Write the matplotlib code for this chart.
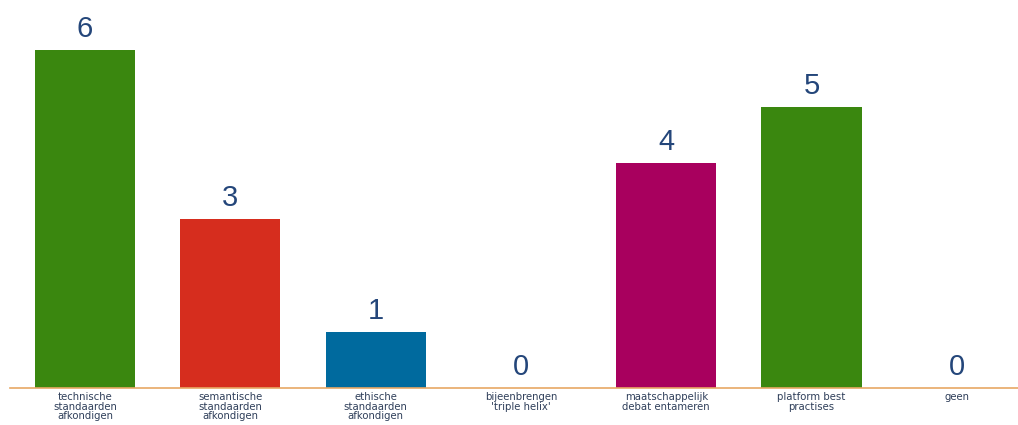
import matplotlib
matplotlib.use("Agg")
import matplotlib.pyplot as plt

categories = ["technische\nstandaarden\nafkondigen", "semantische\nstandaarden\nafkondigen",
              "ethische\nstandaarden\nafkondigen", "bijeenbrengen\n'triple helix'",
              "maatschappelijk\ndebat entameren", "platform best\npractises", "geen"]
values = [6, 3, 1, 0, 4, 5, 0]
colors = ["#3a870f", "#d62d1e", "#006a9e", "#3a870f", "#a8005e", "#3a870f", "#3a870f"]

fig = plt.figure(figsize=(10.18, 4.25), dpi=100)
ax = fig.add_axes([10/1018, 37/425, 1008/1018, 388/425])
x = list(range(len(categories)))
ax.bar(x, values, width=0.69, color=colors)
ax.set_xlim(-0.516, 6.42)
ax.set_ylim(0, 388/56.3)
for xi, v in zip(x, values):
    ax.text(xi, v + 0.12, str(v), ha="center", va="bottom", fontsize=21,
            color="#24467a", family="Liberation Sans")
for s in ["top", "right", "left"]:
    ax.spines[s].set_visible(False)
ax.spines["bottom"].set_color("#e8a865")
ax.spines["bottom"].set_linewidth(1.2)
ax.set_yticks([])
ax.set_xticks(x)
ax.set_xticklabels(categories, fontsize=7.3, color="#2f3f5a", family="DejaVu Sans", linespacing=0.95)
ax.tick_params(axis="x", length=0, pad=3)
fig.savefig("out.png", dpi=100)
